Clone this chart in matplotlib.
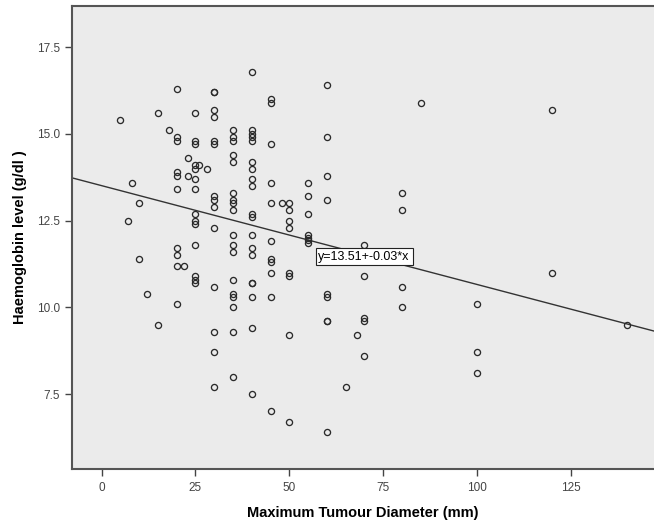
import matplotlib
matplotlib.use("Agg")
import matplotlib.pyplot as plt

# tumour diameter (mm) and haemoglobin (g/dl)
diameter = [5, 7, 8, 10, 10, 12, 15, 15, 18,
            20, 20, 20, 20, 20, 20, 20, 20, 20, 20, 22, 23, 23,
            25, 25, 25, 25, 25, 26, 28, 25, 25, 25, 25, 25, 25, 25, 25, 25,
            30, 30, 30, 30, 30, 30, 30, 30, 30, 30, 30, 30, 30, 30,
            35, 35, 35, 35, 35, 35, 35, 35, 35, 35, 35, 35, 35, 35, 35, 35, 35, 35,
            40, 40, 40, 40, 40, 40, 40, 40, 40, 40, 40, 40, 40, 40, 40, 40, 40, 40, 40,
            45, 45, 45, 45, 45, 45, 45, 45, 45, 45, 45, 48,
            50, 50, 50, 50, 50, 50, 50, 50,
            55, 55, 55, 55, 55, 55, 55,
            60, 60, 60, 60, 60, 60, 60, 60, 60,
            65, 68, 70, 70, 70, 70, 70,
            80, 80, 80, 80, 85, 100, 100, 100, 120, 120, 140]
haemoglobin = [15.4, 12.5, 13.6, 13.0, 11.4, 10.4, 15.6, 9.5, 15.1,
               16.3, 14.9, 14.8, 13.9, 13.8, 13.4, 11.7, 11.5, 11.2, 10.1, 11.2, 14.3, 13.8,
               15.6, 14.8, 14.7, 14.1, 14.0, 14.1, 14.0, 13.7, 13.4, 12.7, 12.5, 12.4, 11.8, 10.9, 10.8, 10.7,
               16.2, 16.2, 15.7, 15.5, 14.8, 14.7, 13.2, 13.1, 12.9, 12.3, 10.6, 9.3, 8.7, 7.7,
               15.1, 14.9, 14.8, 14.4, 14.2, 13.3, 13.1, 13.0, 12.8, 12.1, 11.8, 11.6, 10.8, 10.4, 10.3, 10.0, 9.3, 8.0,
               16.8, 15.1, 15.0, 14.9, 14.8, 14.2, 14.0, 13.7, 13.5, 12.7, 12.6, 12.1, 11.7, 11.5, 10.7, 10.7, 10.3, 9.4, 7.5,
               16.0, 15.9, 14.7, 13.6, 13.0, 11.9, 11.4, 11.3, 11.0, 10.3, 7.0, 13.0,
               13.0, 12.8, 12.5, 12.3, 11.0, 10.9, 9.2, 6.7,
               13.6, 13.2, 12.7, 12.1, 11.95, 11.85, 12.0,
               16.4, 14.9, 13.8, 13.1, 10.4, 10.3, 9.6, 9.6, 6.4,
               7.7, 9.2, 11.8, 10.9, 9.7, 9.6, 8.6,
               13.3, 12.8, 10.6, 10.0, 15.9, 10.1, 8.7, 8.1, 15.7, 11.0, 9.5]

fit_intercept = 13.51
fit_slope = -0.0285
fit_label = "y=13.51+-0.03*x"

x_ticks = [0, 25, 50, 75, 100, 125]
y_ticks = [7.5, 10.0, 12.5, 15.0, 17.5]

plt.rcParams['font.family'] = ['Liberation Sans', 'DejaVu Sans']

fig = plt.figure(figsize=(6.54, 5.28), dpi=100)
ax = fig.add_axes([0.110, 0.1117, 0.890, 0.877])
ax.set_facecolor("#ebebeb")

xlim = (-7.9, 147.1)
ax.set_xlim(*xlim)
ax.set_ylim(5.34, 18.69)

ax.plot(diameter, haemoglobin, 'o', markersize=4.4, markerfacecolor='none',
        markeredgecolor='#2a2a2a', markeredgewidth=0.95, zorder=3)

# regression line across the whole plot
ax.plot(xlim, [fit_intercept + fit_slope * v for v in xlim], color='#333333',
        linewidth=1.0, zorder=2)

ax.text(69.9, 11.46, fit_label, fontsize=9, ha='center', va='center', zorder=4,
        bbox=dict(boxstyle='square,pad=0.22', facecolor='white', edgecolor='#222222',
                  linewidth=0.8))

ax.set_xticks(x_ticks)
ax.set_yticks(y_ticks)
ax.set_yticklabels([f"{v:.1f}" for v in y_ticks])
ax.tick_params(axis='both', direction='out', length=5, width=1, color='#444444',
               labelsize=8.5, labelcolor='#444444')
ax.tick_params(axis='x', pad=4)

for side in ['left', 'bottom', 'top']:
    ax.spines[side].set_color('#555555')
    ax.spines[side].set_linewidth(1.5)
ax.spines['right'].set_visible(False)

ax.set_xlabel("Maximum Tumour Diameter (mm)", fontsize=10.5, fontweight='bold', labelpad=9)
ax.set_ylabel("Haemoglobin level (g/dl )", fontsize=10.5, fontweight='bold', labelpad=7)

fig.savefig("out.png", dpi=100)
